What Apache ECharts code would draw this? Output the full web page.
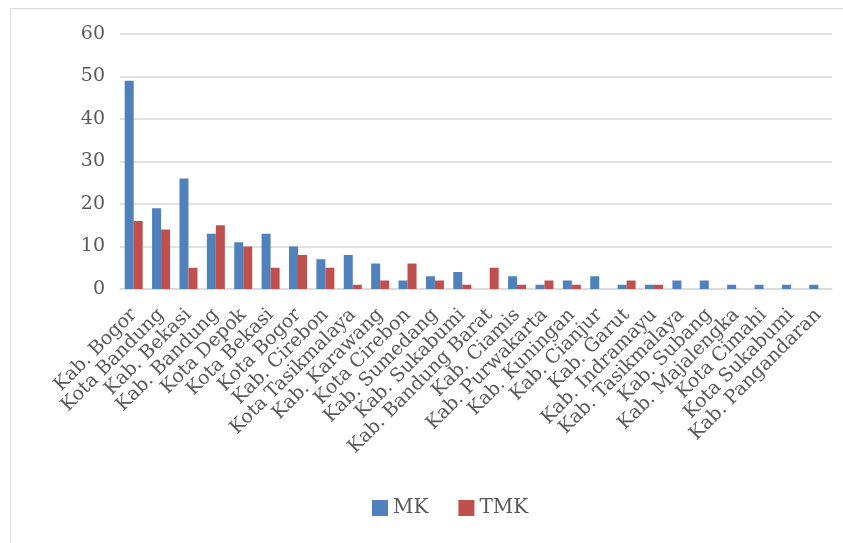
<!DOCTYPE html>
<html>
<head>
<meta charset="utf-8">
<script src="https://cdn.jsdelivr.net/npm/echarts@6/dist/echarts.min.js"></script>
<style>
  html, body { margin: 0; padding: 0; background: #fff; }
  #frame {
    position: absolute; left: 10px; top: 8px; width: 833px; height: 535px;
    border-left: 1px solid #d9d9d9; border-top: 1px solid #d9d9d9;
  }
  #chart { position: absolute; left: 0; top: 0; width: 843px; height: 543px; }
</style>
</head>
<body>
<div id="frame"></div>
<div id="chart"></div>
<script>
// kabupaten / kota
const categories = [
  "Kab. Bogor", "Kota Bandung", "Kab. Bekasi", "Kab. Bandung", "Kota Depok",
  "Kota Bekasi", "Kota Bogor", "Kab. Cirebon", "Kota Tasikmalaya", "Kab. Karawang",
  "Kota Cirebon", "Kab. Sumedang", "Kab. Sukabumi", "Kab. Bandung Barat", "Kab. Ciamis",
  "Kab. Purwakarta", "Kab. Kuningan", "Kab. Cianjur", "Kab. Garut", "Kab. Indramayu",
  "Kab. Tasikmalaya", "Kab. Subang", "Kab. Majalengka", "Kota Cimahi", "Kota Sukabumi",
  "Kab. Pangandaran"
];
const mkValues  = [49, 19, 26, 13, 11, 13, 10, 7, 8, 6, 2, 3, 4, 0, 3, 1, 2, 3, 1, 1, 2, 2, 1, 1, 1, 1];
const tmkValues = [16, 14, 5, 15, 10, 5, 8, 5, 1, 2, 6, 2, 1, 5, 1, 2, 1, 0, 2, 1, 0, 0, 0, 0, 0, 0];
const yTicks = [0, 10, 20, 30, 40, 50, 60];

const chart = echarts.init(document.getElementById("chart"));
const serif = "'DejaVu Serif', 'Liberation Serif', serif";

chart.setOption({
  animation: false,
  textStyle: { fontFamily: serif },
  grid: { left: 120, right: 11, top: 34, bottom: 254 },
  legend: {
    bottom: 20,
    left: 367,
    itemWidth: 16,
    itemHeight: 16,
    itemGap: 30,
    icon: "rect",
    textStyle: { color: "#595959", fontSize: 20, fontFamily: serif },
    data: ["MK", "TMK"]
  },
  xAxis: {
    type: "category",
    data: categories,
    axisTick: { show: false },
    axisLine: { lineStyle: { color: "#d9d9d9", width: 1.5 } },
    axisLabel: {
      interval: 0,
      rotate: 45,
      margin: 23,
      color: "#595959",
      fontSize: 19,
      fontFamily: serif
    }
  },
  yAxis: {
    type: "value",
    min: yTicks[0],
    max: yTicks[yTicks.length - 1],
    interval: 10,
    axisLine: { show: false },
    axisTick: { show: false },
    splitLine: { lineStyle: { color: "#d9d9d9", width: 1.5 } },
    axisLabel: { color: "#595959", fontSize: 19, margin: 15, fontFamily: serif }
  },
  series: [
    {
      name: "MK",
      type: "bar",
      data: mkValues,
      barWidth: 9,
      barGap: "0%",
      itemStyle: { color: "#4f81bd" }
    },
    {
      name: "TMK",
      type: "bar",
      data: tmkValues,
      barWidth: 9,
      barGap: "0%",
      itemStyle: { color: "#c0504d" }
    }
  ]
});
</script>
</body>
</html>
